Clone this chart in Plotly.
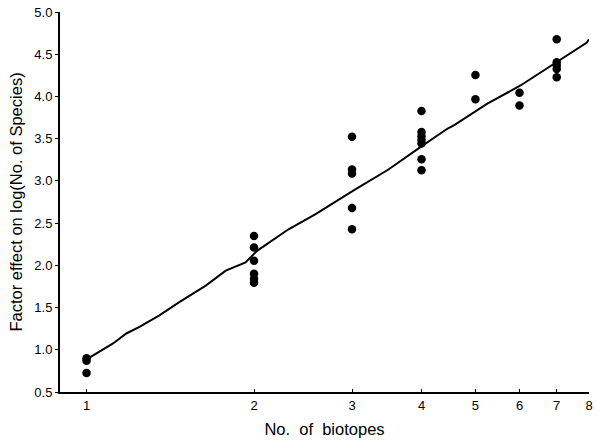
import plotly.graph_objects as go

# Observed points: number of biotopes vs factor effect
pts_x = [1, 1, 1,
         2, 2, 2, 2, 2, 2,
         3, 3, 3, 3, 3,
         4, 4, 4, 4, 4, 4, 4,
         5, 5,
         6, 6,
         7, 7, 7, 7, 7]
pts_y = [0.90, 0.87, 0.726,
         2.348, 2.21, 2.054, 1.90, 1.84, 1.795,
         3.523, 3.135, 3.087, 2.68, 2.427,
         3.828, 3.58, 3.53, 3.484, 3.444, 3.256, 3.127,
         4.255, 3.966,
         4.043, 3.893,
         4.678, 4.404, 4.365, 4.325, 4.228]

# Fitted smooth line
fit_x = [1.0, 1.116, 1.179, 1.245, 1.352, 1.468, 1.638, 1.779, 1.931, 2.025,
         2.307, 2.576, 3.036, 3.483, 3.993, 4.457, 4.58, 5.253, 6.025, 6.913, 7.93, 8.0]
fit_y = [0.887, 1.075, 1.193, 1.27, 1.408, 1.564, 1.76, 1.937, 2.034, 2.172,
         2.427, 2.603, 2.897, 3.132, 3.405, 3.62, 3.66, 3.914, 4.13, 4.384, 4.639, 4.678]

x_ticks = [1, 2, 3, 4, 5, 6, 7, 8]
y_ticks = [0.5, 1.0, 1.5, 2.0, 2.5, 3.0, 3.5, 4.0, 4.5, 5.0]

fig = go.Figure()
fig.add_trace(go.Scatter(x=fit_x, y=fit_y, mode="lines",
                         line=dict(color="black", width=2), showlegend=False,
                         cliponaxis=False))
fig.add_trace(go.Scatter(x=pts_x, y=pts_y, mode="markers",
                         marker=dict(color="black", size=8.5), showlegend=False,
                         cliponaxis=False))

font = "Liberation Sans, Arial, sans-serif"
fig.update_layout(
    width=597, height=446,
    margin=dict(l=60, r=4.5, t=9.3, b=53.5),
    paper_bgcolor="white", plot_bgcolor="white",
    font=dict(family=font, color="black", size=13),
    xaxis=dict(type="log", range=[-0.0477, 0.90309],
               tickvals=x_ticks, ticktext=[str(v) for v in x_ticks],
               ticks="inside", ticklen=3, tickcolor="black", tickwidth=1,
               showline=True, linecolor="black", linewidth=2,
               showgrid=False, zeroline=False,
               tickfont=dict(size=13),
               title=dict(text="No.  of  biotopes", font=dict(size=16.5), standoff=12)),
    yaxis=dict(range=[0.5, 5.0], tickvals=y_ticks,
               ticktext=["%.1f" % v for v in y_ticks],
               ticks="outside", ticklen=3, tickcolor="black", tickwidth=1,
               showline=True, linecolor="black", linewidth=2,
               showgrid=False, zeroline=False,
               tickfont=dict(size=13),
               title=dict(text="Factor effect on log(No. of Species)", font=dict(size=16.5), standoff=8)),
)

fig.write_html("out.html")
